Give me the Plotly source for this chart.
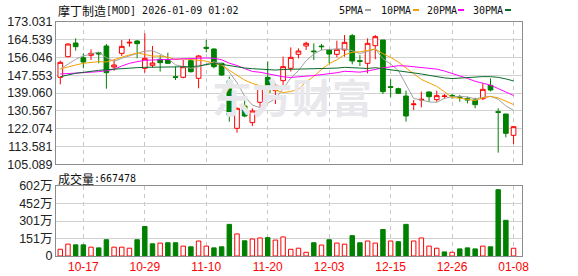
import plotly.graph_objects as go
import pandas as pd

# ---------------- data ----------------
dates = ["10-14","10-15","10-16","10-17","10-20","10-21","10-22","10-23","10-24","10-27",
         "10-28","10-29","10-30","10-31","11-03","11-04","11-05","11-06","11-07","11-10",
         "11-11","11-12","11-13","11-14","11-17","11-18","11-19","11-20","11-21","11-24",
         "11-25","11-26","11-28","12-01","12-02","12-03","12-04","12-05","12-08","12-09",
         "12-10","12-11","12-12","12-15","12-16","12-17","12-18","12-19","12-22","12-23",
         "12-24","12-26","12-29","12-30","12-31","01-02","01-05","01-06","01-07","01-08"]

open_ = [146.53,156.37,162.88,155.90,157.01,158.28,161.45,151.45,157.96,162.88,
         163.84,150.81,152.24,155.10,154.78,146.84,146.53,154.47,146.05,160.82,
         160.02,153.20,144.78,122.23,132.87,124.93,134.62,146.53,140.17,144.94,
         150.81,157.48,161.45,159.07,161.45,159.55,157.48,159.55,166.38,154.47,
         153.20,161.61,164.31,142.08,141.13,137.63,133.50,135.73,139.54,135.89,
         137.40,137.90,137.32,136.36,135.73,136.36,142.72,130.17,129.06,118.89]
high = [154.47,162.72,165.11,157.96,159.87,158.44,162.41,154.78,164.31,164.79,
        164.31,167.49,161.45,157.17,158.28,151.61,154.78,155.10,157.17,164.31,
        160.34,153.51,146.84,132.23,137.00,131.76,142.40,154.15,143.67,156.37,
        160.80,160.34,163.52,162.72,162.41,159.87,163.99,166.69,167.17,157.17,
        165.11,166.69,164.31,145.57,141.60,140.17,135.73,139.70,139.86,140.17,
        138.59,138.59,138.11,137.32,136.84,143.67,146.05,131.76,129.06,123.34]
low = [143.19,156.05,159.23,150.81,154.78,153.20,141.13,149.70,156.69,161.14,
       155.58,148.75,151.13,149.23,152.88,145.26,146.05,148.75,141.29,158.44,
       150.81,147.16,125.40,120.16,127.47,123.34,132.23,137.63,133.82,142.87,
       149.30,155.58,159.55,154.78,159.55,153.20,156.05,156.37,152.72,151.93,
       148.43,155.10,138.59,137.00,138.59,125.40,130.96,132.23,134.78,134.93,
       136.36,136.36,134.93,134.14,131.76,135.73,139.86,110.64,117.94,114.77]
close = [153.67,162.40,161.14,153.83,157.96,157.64,148.75,152.40,161.29,163.20,
         162.57,155.58,153.35,153.51,153.20,146.53,151.61,149.23,156.69,160.34,
         151.61,147.64,128.58,131.76,128.10,130.49,141.29,139.22,142.72,151.61,
         156.05,159.07,162.72,158.75,161.14,157.64,159.87,163.20,154.31,154.15,
         162.72,165.90,139.70,141.76,138.90,128.10,133.82,136.05,137.32,137.80,
         137.60,137.65,137.00,135.73,133.50,140.81,140.49,129.85,119.85,123.02]
volume_wan = [58,102,96,96,76,70,140,76,76,67,
              140,254,105,111,114,114,85,79,129,85,
              70,79,272,190,131,146,155,158,137,164,
              58,67,32,114,94,140,111,102,175,114,
              129,111,228,129,123,272,129,155,85,67,
              35,32,61,70,61,85,79,570,307,66.7478]

# moving-average values before a full window is available
ma5_head = [150.5, 152.7, 155.1, 156.7]
ma10_head = [150.5, 151.6, 152.4, 153.2, 153.7, 154.0, 153.8, 154.8, 156.1]
ma20_head = [148.1, 148.27, 148.43, 148.75, 149.07, 149.23, 149.7, 150.34, 151.93, 153.2,
             153.99, 154.63, 154.78, 154.94, 154.94, 155.1, 155.1, 155.26, 155.58]
ma30_head = [146.84, 147.8, 148.43, 148.9, 149.54, 149.86, 150.18, 150.5, 150.81, 150.97,
             151.13, 151.29, 151.29, 151.29, 151.45, 151.45, 151.6, 151.6, 151.93, 152.72,
             153.2, 152.72, 152.1, 151.45, 150.97, 150.65, 150.34, 150.18, 150.0]

tick_labels = ["10-17","10-29","11-10","11-20","12-03","12-15","12-26","01-08"]
price_ticks = [173.031,164.539,156.046,147.553,139.060,130.567,122.074,113.581,105.089]
vol_ticks = [0,150.5,301,451.5,602]
vol_tick_text = ["0","151万","301万","452万","602万"]

# ---------------- derived ----------------
n = len(dates)
xs = list(range(n))
tick_idx = [dates.index(t) for t in tick_labels]
cs = pd.Series(close)

def ma(w, head):
    s = cs.rolling(w).mean().tolist()
    return head + s[len(head):]

ma5 = ma(5, ma5_head)
ma10 = ma(10, ma10_head)
ma20 = ma(20, ma20_head)
ma30 = ma(30, ma30_head)

RED = "#ff0000"
GREEN = "#008000"
up_vol = [close[0] >= open_[0]] + [close[i] >= close[i-1] for i in range(1, n)]
vol_fill = ["white" if u else GREEN for u in up_vol]
vol_line = [RED if u else GREEN for u in up_vol]

fig = go.Figure()
fig.add_trace(go.Candlestick(
    x=xs, open=open_, high=high, low=low, close=close,
    increasing=dict(line=dict(color=RED, width=1), fillcolor="white"),
    decreasing=dict(line=dict(color=GREEN, width=1), fillcolor=GREEN),
    whiskerwidth=0, xaxis="x", yaxis="y", showlegend=False, hoverinfo="skip"))

ma_styles = [(ma5, "#a0a0a0"), (ma10, "#f5a000"), (ma20, "#ff00ff"), (ma30, "#0a6b2a")]
for vals, col in ma_styles:
    fig.add_trace(go.Scatter(x=xs, y=vals, mode="lines", line=dict(color=col, width=1),
                             xaxis="x", yaxis="y", showlegend=False, hoverinfo="skip"))

fig.add_trace(go.Bar(x=xs, y=volume_wan, width=0.58,
                     marker=dict(color=vol_fill, line=dict(color=vol_line, width=1)),
                     xaxis="x2", yaxis="y2", showlegend=False, hoverinfo="skip"))

L, R, T, B = 56, 56, 21, 20
W, H = 578, 276
ph = H - T - B
def py(px):
    return min(1.0, max(0.0, (H - B - px) / ph))
def pyf(px):
    return (H - B - px) / ph
def pxx(px):
    return (px - L) / (W - L - R)

BORDER = "#8c8c8c"
GRID = "#d2d2d2"
VGRID = "#c8c8c8"
xr = [-0.56, 60.1]
common_x = dict(range=xr, tickvals=tick_idx, ticktext=tick_labels, showgrid=True,
                gridcolor=VGRID, griddash="4px,4px", gridwidth=1, zeroline=False,
                showline=True, mirror=True, linecolor=BORDER, linewidth=1, ticks="",
                fixedrange=True, automargin=False)
TICKFONT = "Liberation Sans, Arial"
MONO = "DejaVu Sans Mono, Liberation Mono"

fig.update_layout(
    width=W, height=H, margin=dict(l=L, r=R, t=T, b=B, autoexpand=False),
    paper_bgcolor="white", plot_bgcolor="white",
    boxgap=0.39, boxgroupgap=0, bargap=0.4,
    xaxis=dict(**common_x, domain=[0, 1], anchor="y", showticklabels=False,
               rangeslider=dict(visible=False)),
    xaxis2=dict(**common_x, domain=[0, 1], anchor="y2", showticklabels=True,
                tickfont=dict(family=TICKFONT, size=12, color=RED)),
    yaxis=dict(domain=[py(164.3), py(21.7)], range=[105.089, 173.031],
               tickvals=price_ticks, ticktext=[f"{v:.3f}" for v in price_ticks],
               showgrid=True, gridcolor=GRID, zeroline=False, showline=True, mirror=True,
               linecolor=BORDER, linewidth=1, ticks="", automargin=False,
               tickfont=dict(family=TICKFONT, size=12.5, color="#222222")),
    yaxis2=dict(domain=[0, py(186)], range=[0, 602],
                tickvals=vol_ticks, ticktext=vol_tick_text,
                showgrid=True, gridcolor=GRID, zeroline=False, showline=True, mirror=True,
                linecolor=BORDER, linewidth=1, ticks="", automargin=False,
                tickfont=dict(family=TICKFONT + ", Noto Sans CJK SC", size=12.5, color="#222222")),
)

ann = []
# watermark
ann.append(dict(text="<b>东方财富</b>", x=pxx(292), y=pyf(96), xref="paper", yref="paper",
                xanchor="center", yanchor="middle", showarrow=False,
                font=dict(family="Noto Sans CJK SC", size=40, color="#e8e8ec")))
# header
ann.append(dict(text="摩丁制造", x=pxx(56), y=pyf(11), xref="paper", yref="paper",
                xanchor="left", yanchor="middle", showarrow=False,
                font=dict(family="Noto Sans CJK SC", size=12, color="#111111")))
ann.append(dict(text="[MOD] 2026-01-09 01:02", x=pxx(104), y=pyf(11), xref="paper", yref="paper",
                xanchor="left", yanchor="middle", showarrow=False,
                font=dict(family=MONO, size=10, color="#111111")))
# volume label
ann.append(dict(text="成交量", x=pxx(56), y=pyf(178), xref="paper", yref="paper",
                xanchor="left", yanchor="middle", showarrow=False,
                font=dict(family="Noto Sans CJK SC", size=12, color="#111111")))
ann.append(dict(text=":667478", x=pxx(92), y=pyf(178), xref="paper", yref="paper",
                xanchor="left", yanchor="middle", showarrow=False,
                font=dict(family=MONO, size=10, color="#111111")))
# MA legend
legend_items = [("5PMA", 337, 365, "#a0a0a0"), ("10PMA", 379, 413, "#f5a000"),
                ("20PMA", 425, 458, "#ff00ff"), ("30PMA", 471, 505, "#0a6b2a")]
shapes = []
for lab, x0, sx, col in legend_items:
    ann.append(dict(text=lab, x=pxx(x0), y=pyf(10), xref="paper", yref="paper",
                    xanchor="left", yanchor="middle", showarrow=False,
                    font=dict(family=MONO, size=10, color="#111111")))
    shapes.append(dict(type="rect", xref="paper", yref="paper",
                       x0=pxx(sx), x1=pxx(sx + 6), y0=pyf(11), y1=pyf(9),
                       fillcolor=col, line=dict(width=0)))
fig.update_layout(annotations=ann, shapes=shapes)

fig.write_html("out.html")
